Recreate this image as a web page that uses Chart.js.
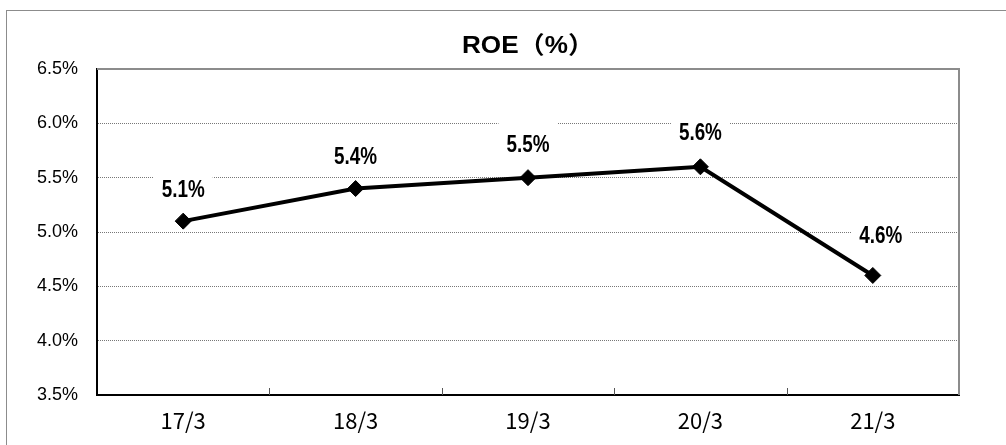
<!DOCTYPE html>
<html>
<head>
<meta charset="utf-8">
<script src="https://cdn.jsdelivr.net/npm/chart.js@4.4.1/dist/chart.umd.min.js"></script>
<style>
  html, body { margin: 0; padding: 0; background: #fff; }
  #wrap { width: 1006px; height: 445px; position: relative; }
</style>
</head>
<body>
<div id="wrap"><canvas id="c" width="1006" height="445"></canvas></div>
<script>
const categories = ['17/3', '18/3', '19/3', '20/3', '21/3'];
const roeValues = [5.1, 5.4, 5.5, 5.6, 4.6];
const yTickValues = [3.5, 4.0, 4.5, 5.0, 5.5, 6.0, 6.5];
const titleText = 'ROE（%）';

function drawScaledText(ctx, txt, cx, cy, targetScale) {
  ctx.save();
  ctx.translate(cx, cy);
  ctx.scale(targetScale, 1);
  ctx.fillText(txt, 0, 0);
  ctx.restore();
}

const labelPlugin = {
  id: 'valueLabels',
  beforeDraw(chart) {
    const ctx = chart.ctx;
    ctx.save();
    ctx.strokeStyle = '#8c8c8c';
    ctx.lineWidth = 1;
    ctx.strokeRect(6.5, 10.5, 1200, 600);
    ctx.restore();
  },
  afterDraw(chart) {
    const ctx = chart.ctx;
    const area = chart.chartArea;
    ctx.save();
    ctx.font = 'bold 24px "Liberation Sans", "Noto Sans CJK JP", sans-serif';
    ctx.fillStyle = '#000';
    ctx.textAlign = 'center';
    ctx.textBaseline = 'middle';
    const w = ctx.measureText(titleText).width;
    drawScaledText(ctx, titleText, (area.left + area.right) / 2, 46, 132 / w);
    ctx.restore();
  },
  beforeDatasetsDraw(chart, args, opts) {
    const ctx = chart.ctx;
    const area = chart.chartArea;
    const xs = chart.scales.x;
    ctx.save();
    ctx.strokeStyle = '#8c8c8c';
    ctx.lineWidth = 2;
    ctx.beginPath();
    ctx.moveTo(area.left, area.top);
    ctx.lineTo(area.right, area.top);
    ctx.lineTo(area.right, area.bottom);
    ctx.stroke();
    ctx.strokeStyle = '#555';
    ctx.lineWidth = 1;
    for (let i = 1; i < categories.length; i++) {
      const x = Math.round((xs.getPixelForValue(i - 1) + xs.getPixelForValue(i)) / 2) + 0.5;
      ctx.beginPath();
      ctx.moveTo(x, area.bottom);
      ctx.lineTo(x, area.bottom - 7);
      ctx.stroke();
    }
    const meta = chart.getDatasetMeta(0);
    ctx.font = 'bold 23px "Liberation Sans", sans-serif';
    ctx.textAlign = 'center';
    ctx.textBaseline = 'middle';
    meta.data.forEach((pt, i) => {
      const off = opts.offsets[i];
      const cx = pt.x + off[0];
      const cy = pt.y + off[1];
      const txt = roeValues[i].toFixed(1) + '%';
      const w = ctx.measureText(txt).width * 0.82;
      ctx.fillStyle = '#fff';
      ctx.fillRect(cx - w / 2 - 8, cy - 26, w + 16, 38);
      ctx.fillStyle = '#000';
      drawScaledText(ctx, txt, cx, cy + 1, 0.82);
    });
    ctx.restore();
  }
};

new Chart(document.getElementById('c'), {
  type: 'line',
  data: {
    labels: categories,
    datasets: [{
      data: roeValues,
      borderColor: '#000',
      backgroundColor: '#000',
      borderWidth: 4,
      pointStyle: 'rectRot',
      pointRadius: 8,
      pointBorderWidth: 1,
      pointBackgroundColor: '#000',
      pointBorderColor: '#000',
      tension: 0
    }]
  },
  options: {
    responsive: false,
    animation: false,
    devicePixelRatio: 1,
    layout: { padding: { left: 0, right: 47, top: 69, bottom: 0 } },
    plugins: {
      legend: { display: false },
      tooltip: { enabled: false },
      title: { display: false },
      valueLabels: {
        offsets: [[0, -31], [0, -32], [0, -33], [0, -34], [8, -40]]
      }
    },
    scales: {
      x: {
        offset: true,
        grid: { display: false, drawTicks: false },
        border: { display: true, color: '#000', width: 2 },
        ticks: {
          color: '#000',
          padding: 12,
          font: { family: '"Noto Sans CJK JP", sans-serif', size: 22 }
        },
        afterFit(scale) { scale.height = 50; }
      },
      y: {
        min: 3.5,
        max: 6.5,
        afterBuildTicks(scale) { scale.ticks = yTickValues.map(v => ({ value: v })); },
        grid: {
          drawTicks: false,
          color: ctx => (ctx.tick && (ctx.tick.value === 6.5 || ctx.tick.value === 3.5)) ? 'rgba(0,0,0,0)' : '#777',
          lineWidth: 1
        },
        border: { display: true, color: '#000', width: 2, dash: [1, 1] },
        ticks: {
          color: '#000',
          padding: 19,
          font: { family: '"Liberation Sans", sans-serif', size: 18 },
          callback: v => Number(v).toFixed(1) + '%'
        },
        afterFit(scale) { scale.width = 97; }
      }
    }
  },
  plugins: [labelPlugin]
});
</script>
</body>
</html>
